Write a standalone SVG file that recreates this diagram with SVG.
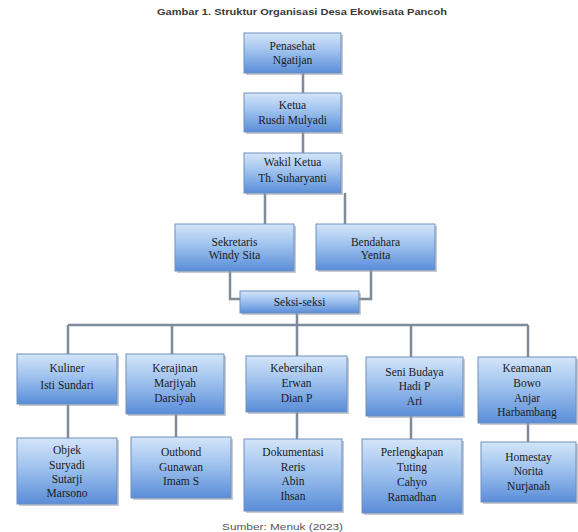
<svg xmlns="http://www.w3.org/2000/svg" width="578" height="532" viewBox="0 0 578 532">
<defs>
<linearGradient id="g" x1="0" y1="0" x2="0" y2="1">
<stop offset="0" stop-color="#d4e5f9"/>
<stop offset="0.45" stop-color="#9fc2ee"/>
<stop offset="1" stop-color="#5a8dd8"/>
</linearGradient>
</defs>
<style>
.b{fill:url(#g);stroke:#6f8fc0;stroke-width:1}
.s{fill:#9aa3ad;opacity:0.55}
.t{font-family:"Liberation Serif","Times New Roman",serif;font-size:11.5px;fill:#1b1b1b;text-anchor:middle}
.c{fill:none;stroke:#7f8b98;stroke-width:2.5}
</style>
<rect width="578" height="532" fill="#ffffff"/>
<text x="157" y="15" font-family="'Liberation Sans',Arial,sans-serif" font-size="8.5" font-weight="bold" fill="#3a3a3a" textLength="290" lengthAdjust="spacingAndGlyphs">Gambar 1. Struktur Organisasi Desa Ekowisata Pancoh</text>
<g id="connectors">
<path class="c" d="M303 73V93M303 132V153M265 193V224M345 193V224M230 271V299H240M371 270V299H359M297 313V325M68 325H528M68 325V354M172 325V354M297 325V356M411 325V357M528 325V357M68 404V438M176 414V437M297 412V439M411 416V439M528 423V442"/>
</g>
<g id="penasehat"><rect class="s" x="246" y="35" width="97" height="40"/><rect class="b" x="244" y="33" width="97" height="40"/><text class="t" x="292.5" y="50">Penasehat</text><text class="t" x="292.5" y="64">Ngatijan</text></g>
<g id="ketua"><rect class="s" x="246" y="95" width="97" height="39"/><rect class="b" x="244" y="93" width="97" height="39"/><text class="t" x="292.5" y="109">Ketua</text><text class="t" x="292.5" y="124">Rusdi Mulyadi</text></g>
<g id="wakil"><rect class="s" x="246" y="155" width="97" height="40"/><rect class="b" x="244" y="153" width="97" height="40"/><text class="t" x="292.5" y="166">Wakil Ketua</text><text class="t" x="292.5" y="182">Th. Suharyanti</text></g>
<g id="sekretaris"><rect class="s" x="177" y="226" width="119" height="47"/><rect class="b" x="175" y="224" width="119" height="47"/><text class="t" x="234.5" y="246">Sekretaris</text><text class="t" x="234.5" y="259">Windy Sita</text></g>
<g id="bendahara"><rect class="s" x="318" y="226" width="119" height="46"/><rect class="b" x="316" y="224" width="119" height="46"/><text class="t" x="375.5" y="246">Bendahara</text><text class="t" x="375.5" y="259">Yenita</text></g>
<g id="seksi"><rect class="s" x="242" y="293" width="119" height="22"/><rect class="b" x="240" y="291" width="119" height="22"/><text class="t" x="299.5" y="306">Seksi-seksi</text></g>
<g id="kuliner"><rect class="s" x="19" y="356" width="100" height="50"/><rect class="b" x="17" y="354" width="100" height="50"/><text class="t" x="67" y="372">Kuliner</text><text class="t" x="67" y="389">Isti Sundari</text></g>
<g id="kerajinan"><rect class="s" x="128" y="356" width="98" height="60"/><rect class="b" x="126" y="354" width="98" height="60"/><text class="t" x="175" y="372">Kerajinan</text><text class="t" x="175" y="387">Marjiyah</text><text class="t" x="175" y="402">Darsiyah</text></g>
<g id="kebersihan"><rect class="s" x="248" y="358" width="101" height="56"/><rect class="b" x="246" y="356" width="101" height="56"/><text class="t" x="296.5" y="372">Kebersihan</text><text class="t" x="296.5" y="387">Erwan</text><text class="t" x="296.5" y="402">Dian P</text></g>
<g id="senibudaya"><rect class="s" x="368" y="359" width="97" height="59"/><rect class="b" x="366" y="357" width="97" height="59"/><text class="t" x="414.5" y="376">Seni Budaya</text><text class="t" x="414.5" y="390">Hadi P</text><text class="t" x="414.5" y="405">Ari</text></g>
<g id="keamanan"><rect class="s" x="480" y="359" width="98" height="66"/><rect class="b" x="478" y="357" width="98" height="66"/><text class="t" x="527" y="372">Keamanan</text><text class="t" x="527" y="387">Bowo</text><text class="t" x="527" y="402">Anjar</text><text class="t" x="527" y="416">Harbambang</text></g>
<g id="objek"><rect class="s" x="19" y="440" width="100" height="66"/><rect class="b" x="17" y="438" width="100" height="66"/><text class="t" x="67" y="454">Objek</text><text class="t" x="67" y="469">Suryadi</text><text class="t" x="67" y="483">Sutarji</text><text class="t" x="67" y="497">Marsono</text></g>
<g id="outbond"><rect class="s" x="133" y="439" width="100" height="61"/><rect class="b" x="131" y="437" width="100" height="61"/><text class="t" x="181" y="456">Outbond</text><text class="t" x="181" y="471">Gunawan</text><text class="t" x="181" y="485">Imam S</text></g>
<g id="dokumentasi"><rect class="s" x="246" y="441" width="98" height="72"/><rect class="b" x="244" y="439" width="98" height="72"/><text class="t" x="293" y="456">Dokumentasi</text><text class="t" x="293" y="471">Reris</text><text class="t" x="293" y="485">Abin</text><text class="t" x="293" y="500">Ihsan</text></g>
<g id="perlengkapan"><rect class="s" x="364" y="441" width="100" height="74"/><rect class="b" x="362" y="439" width="100" height="74"/><text class="t" x="412" y="456">Perlengkapan</text><text class="t" x="412" y="471">Tuting</text><text class="t" x="412" y="486">Cahyo</text><text class="t" x="412" y="501">Ramadhan</text></g>
<g id="homestay"><rect class="s" x="483" y="444" width="95" height="60"/><rect class="b" x="481" y="442" width="95" height="60"/><text class="t" x="528.5" y="461">Homestay</text><text class="t" x="528.5" y="475">Norita</text><text class="t" x="528.5" y="490">Nurjanah</text></g>
<text x="222" y="530" font-family="'Liberation Sans',Arial,sans-serif" font-size="8.5" fill="#555555" textLength="121" lengthAdjust="spacingAndGlyphs">Sumber: Menuk (2023)</text>
</svg>
